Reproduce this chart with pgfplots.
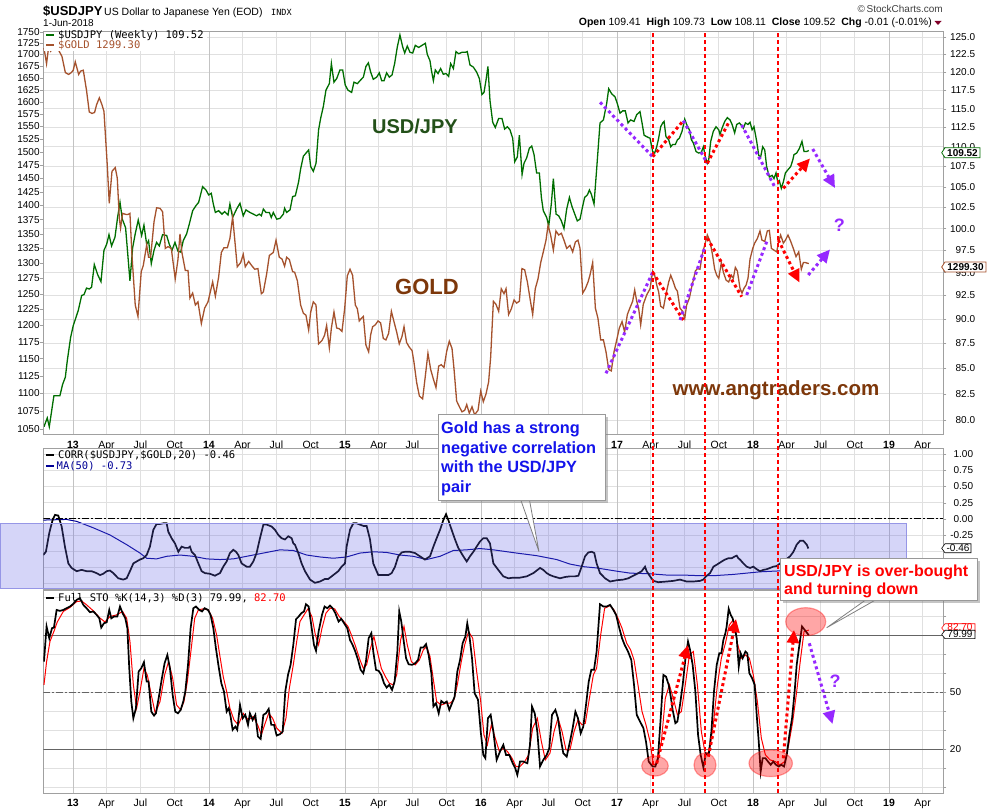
\documentclass[border=0pt]{standalone}
\usepackage{pgfplots}
\pgfplotsset{compat=1.18}
\usepackage{fontspec}
\setmainfont{Liberation Sans}
\newfontfamily\mono{DejaVu Sans Mono}
\usetikzlibrary{arrows.meta,shadows}
\definecolor{jpy}{RGB}{0,110,0}
\definecolor{gold}{RGB}{165,82,45}
\definecolor{gridc}{RGB}{224,224,224}
\definecolor{yearc}{RGB}{195,195,195}
\definecolor{framec}{RGB}{160,160,160}
\definecolor{maline}{RGB}{0,0,150}
\definecolor{purp}{RGB}{150,40,255}
\definecolor{usdtxt}{RGB}{35,80,25}
\definecolor{goldtxt}{RGB}{125,55,10}
\definecolor{bandfill}{RGB}{100,100,230}
\definecolor{bandline}{RGB}{150,150,230}
\definecolor{annblue}{RGB}{20,20,235}
\definecolor{lvl}{RGB}{100,100,100}
\definecolor{chgtri}{RGB}{128,0,40}
\newcommand\fs[1]{\fontsize{#1bp}{#1bp}\selectfont}
\pgfplotsset{
  base/.style={
    scale only axis, width=900bp,
    xmin=2012.782, xmax=2019.399,
    axis line style={framec, line width=0.8bp},
    xtick={2013,2013.247,2013.496,2013.748,2014,2014.247,2014.496,2014.748,2015,2015.247,2015.496,2015.748,2016,2016.247,2016.496,2016.748,2017,2017.247,2017.496,2017.748,2018,2018.247,2018.496,2018.748,2019,2019.247},
    xmajorgrids, ymajorgrids,
    major grid style={gridc, line width=0.6bp},
    extra x ticks={2013,2014,2015,2016,2017,2018,2019},
    extra x tick labels={},
    extra x tick style={major grid style={yearc, line width=0.8bp}},
    x tick style={draw=none},
    y tick style={framec},
    tick align=outside, major tick length=3bp,
    ticklabel style={font=\fs{10}, text=black, inner sep=0pt},
  },
  nolabs/.style={xticklabels={}},
}
\tikzset{
  pdot/.style={purp, line width=3bp, dash pattern=on 3bp off 3bp},
  rdot/.style={red, line width=3bp, dash pattern=on 3bp off 3bp},
  tipp/.style={-{Triangle[length=13bp,width=12bp]}},
  ell/.style={fill=red, fill opacity=0.35, draw=red, draw opacity=0.35, line width=1.2bp},
}
\begin{document}
\begin{tikzpicture}[x=1bp,y=1bp]
\useasboundingbox (0,0) rectangle (990,810);
\fill[white] (0,0) rectangle (990,810);

% ================= TOP PANEL: USD/JPY (right, log)
\begin{axis}[base, at={(43.3bp,376bp)}, anchor=south west, height=403bp,
  xticklabels={\textbf{13},Apr,Jul,Oct,\textbf{14},Apr,Jul,Oct,\textbf{15},Apr,Jul,,,,,,\textbf{17},Apr,Jul,Oct,\textbf{18},Apr,Jul,Oct,\textbf{19},Apr},
  xticklabel style={anchor=base, yshift=-11.5bp, font=\fs{10.5}},
  ymode=log, ymin=78.73, ymax=125.9,
  ytick={80,82.5,85,87.5,90,92.5,95,97.5,100,102.5,105,107.5,110,112.5,115,117.5,120,122.5,125},
  yticklabels={80.0,82.5,85.0,87.5,90.0,92.5,95.0,97.5,100.0,102.5,105.0,107.5,110.0,112.5,115.0,117.5,120.0,122.5,125.0},
  ytick pos=right, yticklabel pos=right, yticklabel style={anchor=east, xshift=29bp}]
\addplot[jpy, line width=1.3bp] coordinates {(2012.787,79.4)(2012.811,80.2)(2012.826,79.4)(2012.860,82.3)(2012.904,82.3)(2012.924,83.4)(2012.944,84.1)(2012.958,85.7)(2012.983,88.1)(2013.002,89.3)(2013.039,90.9)(2013.064,92.5)(2013.081,92.6)(2013.100,93.3)(2013.120,93.2)(2013.137,93.4)(2013.157,95.9)(2013.181,94.8)(2013.206,94.0)(2013.228,97.5)(2013.248,98.2)(2013.265,99.3)(2013.284,98.0)(2013.309,99.0)(2013.328,101.3)(2013.346,103.1)(2013.363,101.1)(2013.387,100.1)(2013.419,94.1)(2013.439,97.8)(2013.458,99.4)(2013.480,101.0)(2013.505,99.2)(2013.522,100.4)(2013.542,98.2)(2013.556,98.6)(2013.576,96.0)(2013.596,97.5)(2013.615,98.4)(2013.635,98.0)(2013.659,99.3)(2013.689,99.2)(2013.708,98.2)(2013.728,97.5)(2013.750,98.4)(2013.772,97.4)(2013.792,97.3)(2013.811,98.6)(2013.836,99.4)(2013.855,100.5)(2013.880,102.1)(2013.904,102.7)(2013.924,103.1)(2013.953,105.0)(2013.978,104.6)(2013.998,104.0)(2014.017,104.2)(2014.032,102.9)(2014.047,101.9)(2014.071,102.1)(2014.096,101.7)(2014.115,102.0)(2014.140,101.6)(2014.154,102.9)(2014.174,101.3)(2014.203,102.3)(2014.228,103.0)(2014.252,101.5)(2014.272,102.2)(2014.301,101.9)(2014.326,101.7)(2014.350,101.5)(2014.370,101.7)(2014.385,101.5)(2014.400,102.3)(2014.419,101.9)(2014.444,101.9)(2014.458,101.3)(2014.473,101.9)(2014.498,101.1)(2014.522,101.2)(2014.547,101.7)(2014.556,102.4)(2014.571,101.9)(2014.596,102.2)(2014.615,103.8)(2014.635,103.9)(2014.659,105.6)(2014.674,107.2)(2014.694,108.8)(2014.733,109.6)(2014.748,107.5)(2014.767,106.9)(2014.787,107.9)(2014.806,112.2)(2014.821,113.7)(2014.841,115.3)(2014.860,117.5)(2014.885,118.4)(2014.900,121.2)(2014.919,118.6)(2014.939,119.1)(2014.963,120.3)(2014.983,120.3)(2015.002,118.2)(2015.022,117.5)(2015.049,117.2)(2015.066,118.6)(2015.091,118.4)(2015.115,118.9)(2015.135,119.3)(2015.154,120.8)(2015.172,121.3)(2015.189,120.0)(2015.208,119.0)(2015.233,119.3)(2015.252,119.9)(2015.270,118.8)(2015.287,118.8)(2015.306,119.9)(2015.326,119.3)(2015.346,119.6)(2015.365,121.2)(2015.385,123.6)(2015.404,125.3)(2015.424,123.6)(2015.439,122.7)(2015.458,123.7)(2015.478,122.8)(2015.498,122.7)(2015.517,123.8)(2015.542,123.5)(2015.566,123.8)(2015.591,124.1)(2015.605,122.5)(2015.625,121.6)(2015.635,120.3)(2015.650,118.8)(2015.664,120.3)(2015.684,119.8)(2015.703,120.5)(2015.723,119.7)(2015.743,119.8)(2015.762,119.4)(2015.777,121.2)(2015.797,120.5)(2015.816,122.9)(2015.836,122.6)(2015.860,122.8)(2015.885,122.8)(2015.899,122.9)(2015.919,121.0)(2015.944,120.7)(2015.968,120.0)(2015.988,119.1)(2016.007,116.9)(2016.022,117.2)(2016.037,118.9)(2016.051,120.8)(2016.066,116.1)(2016.086,113.2)(2016.105,112.5)(2016.130,113.7)(2016.154,113.7)(2016.174,112.3)(2016.194,112.6)(2016.213,112.2)(2016.233,111.1)(2016.248,108.1)(2016.267,108.7)(2016.282,111.5)(2016.302,106.5)(2016.316,107.9)(2016.336,108.6)(2016.355,109.8)(2016.373,110.1)(2016.390,109.0)(2016.409,106.7)(2016.429,106.7)(2016.444,103.7)(2016.458,102.1)(2016.483,101.3)(2016.498,100.3)(2016.517,102.9)(2016.532,106.0)(2016.552,101.7)(2016.571,101.5)(2016.591,100.9)(2016.610,100.0)(2016.630,102.3)(2016.650,103.7)(2016.669,102.6)(2016.694,101.5)(2016.708,100.9)(2016.728,101.1)(2016.743,102.3)(2016.762,103.7)(2016.782,104.0)(2016.797,104.6)(2016.811,104.1)(2016.831,102.9)(2016.850,107.1)(2016.875,113.1)(2016.900,113.5)(2016.924,115.7)(2016.939,117.7)(2016.961,117.0)(2016.985,116.6)(2017.002,115.7)(2017.022,114.4)(2017.042,114.7)(2017.061,114.7)(2017.081,113.1)(2017.100,113.5)(2017.125,113.3)(2017.145,114.2)(2017.169,114.6)(2017.184,113.1)(2017.199,111.5)(2017.218,111.3)(2017.243,111.1)(2017.262,109.4)(2017.277,109.2)(2017.292,110.0)(2017.306,111.1)(2017.321,112.6)(2017.336,113.1)(2017.346,113.3)(2017.360,111.3)(2017.380,110.9)(2017.395,110.0)(2017.409,110.3)(2017.429,110.3)(2017.444,110.9)(2017.458,111.1)(2017.478,112.0)(2017.498,113.6)(2017.512,112.9)(2017.532,112.2)(2017.547,110.9)(2017.561,110.5)(2017.581,109.4)(2017.600,109.2)(2017.620,109.3)(2017.635,110.0)(2017.650,108.7)(2017.664,107.9)(2017.674,108.3)(2017.689,110.7)(2017.708,112.0)(2017.728,112.6)(2017.748,112.2)(2017.757,111.6)(2017.772,112.4)(2017.792,113.3)(2017.811,113.8)(2017.831,113.5)(2017.846,112.9)(2017.865,111.8)(2017.880,112.9)(2017.900,113.1)(2017.914,112.8)(2017.929,112.4)(2017.944,113.1)(2017.963,112.9)(2017.978,113.2)(2017.993,112.2)(2018.007,112.6)(2018.027,110.7)(2018.042,108.9)(2018.056,108.7)(2018.071,110.0)(2018.086,109.6)(2018.100,107.5)(2018.120,106.2)(2018.140,106.4)(2018.154,106.0)(2018.169,106.7)(2018.184,105.4)(2018.194,105.7)(2018.208,104.8)(2018.223,105.6)(2018.238,106.7)(2018.257,107.1)(2018.277,107.5)(2018.292,108.3)(2018.301,109.0)(2018.321,109.2)(2018.341,109.8)(2018.360,110.7)(2018.375,109.4)(2018.394,109.4)(2018.410,109.52)};
\end{axis}

% ================= TOP PANEL: GOLD (left, log)
\begin{axis}[scale only axis, width=900bp, height=403bp, at={(43.3bp,376bp)}, anchor=south west,
  xmin=2012.782, xmax=2019.399, xtick=\empty,
  ymode=log, ymin=1043.9, ymax=1752.4,
  axis line style={framec, line width=0.8bp}, y tick style={framec},
  tick align=outside, major tick length=3bp,
  ticklabel style={font=\fs{10}, text=black, inner sep=0pt},
  ytick={1050,1075,1100,1125,1150,1175,1200,1225,1250,1275,1300,1325,1350,1375,1400,1425,1450,1475,1500,1525,1550,1575,1600,1625,1650,1675,1700,1725,1750},
  yticklabels={1050,1075,1100,1125,1150,1175,1200,1225,1250,1275,1300,1325,1350,1375,1400,1425,1450,1475,1500,1525,1550,1575,1600,1625,1650,1675,1700,1725,1750},
  ytick pos=left, yticklabel style={anchor=east, xshift=-0.5bp}]
\addplot[gold, line width=1.3bp] coordinates {(2012.787,1714)(2012.806,1680)(2012.821,1716)(2012.836,1707)(2012.850,1714)(2012.870,1716)(2012.895,1709)(2012.919,1696)(2012.944,1661)(2012.968,1657)(2012.988,1661)(2013.002,1666)(2013.017,1684)(2013.042,1657)(2013.056,1664)(2013.076,1666)(2013.100,1623)(2013.120,1579)(2013.140,1576)(2013.159,1578)(2013.174,1594)(2013.194,1608)(2013.213,1594)(2013.228,1580)(2013.252,1476)(2013.267,1404)(2013.287,1463)(2013.311,1470)(2013.326,1450)(2013.341,1377)(2013.350,1360)(2013.365,1386)(2013.390,1384)(2013.404,1384)(2013.419,1386)(2013.434,1313)(2013.458,1232)(2013.478,1214)(2013.502,1286)(2013.517,1296)(2013.542,1331)(2013.556,1310)(2013.571,1310)(2013.596,1371)(2013.615,1396)(2013.640,1395)(2013.659,1389)(2013.679,1325)(2013.699,1328)(2013.723,1325)(2013.752,1274)(2013.772,1306)(2013.787,1350)(2013.801,1318)(2013.826,1288)(2013.846,1288)(2013.860,1243)(2013.880,1251)(2013.900,1232)(2013.919,1237)(2013.944,1203)(2013.968,1227)(2013.993,1237)(2014.027,1269)(2014.047,1246)(2014.071,1277)(2014.091,1318)(2014.110,1326)(2014.135,1326)(2014.154,1342)(2014.174,1380)(2014.208,1294)(2014.233,1301)(2014.252,1315)(2014.267,1294)(2014.292,1303)(2014.311,1297)(2014.336,1290)(2014.360,1291)(2014.385,1250)(2014.400,1253)(2014.424,1282)(2014.444,1313)(2014.473,1318)(2014.493,1339)(2014.517,1310)(2014.537,1307)(2014.556,1295)(2014.571,1310)(2014.591,1306)(2014.615,1286)(2014.630,1285)(2014.650,1271)(2014.674,1232)(2014.694,1219)(2014.713,1216)(2014.733,1193)(2014.748,1221)(2014.767,1237)(2014.787,1232)(2014.806,1172)(2014.831,1177)(2014.850,1185)(2014.865,1200)(2014.885,1166)(2014.900,1196)(2014.919,1221)(2014.939,1196)(2014.958,1195)(2014.978,1191)(2014.998,1227)(2015.017,1279)(2015.037,1290)(2015.056,1280)(2015.076,1232)(2015.091,1226)(2015.105,1207)(2015.120,1211)(2015.135,1214)(2015.154,1170)(2015.174,1160)(2015.189,1186)(2015.203,1198)(2015.223,1201)(2015.243,1207)(2015.262,1204)(2015.282,1180)(2015.301,1178)(2015.321,1188)(2015.341,1222)(2015.360,1206)(2015.380,1190)(2015.399,1172)(2015.419,1183)(2015.434,1198)(2015.453,1174)(2015.473,1167)(2015.493,1162)(2015.507,1145)(2015.527,1115)(2015.547,1096)(2015.571,1092)(2015.591,1125)(2015.610,1158)(2015.630,1134)(2015.650,1120)(2015.669,1108)(2015.689,1139)(2015.708,1141)(2015.728,1137)(2015.748,1161)(2015.767,1176)(2015.787,1165)(2015.802,1134)(2015.821,1089)(2015.841,1081)(2015.860,1074)(2015.880,1076)(2015.895,1084)(2015.914,1072)(2015.934,1081)(2015.953,1070)(2015.978,1076)(2015.998,1103)(2016.017,1088)(2016.037,1099)(2016.056,1116)(2016.071,1152)(2016.091,1238)(2016.110,1233)(2016.130,1222)(2016.149,1258)(2016.169,1250)(2016.184,1258)(2016.203,1217)(2016.223,1226)(2016.243,1240)(2016.262,1235)(2016.282,1238)(2016.301,1291)(2016.321,1289)(2016.341,1269)(2016.360,1243)(2016.380,1217)(2016.399,1258)(2016.419,1274)(2016.439,1301)(2016.458,1319)(2016.478,1339)(2016.493,1365)(2016.512,1348)(2016.532,1322)(2016.551,1355)(2016.571,1348)(2016.591,1351)(2016.610,1339)(2016.630,1325)(2016.654,1330)(2016.674,1319)(2016.694,1336)(2016.713,1339)(2016.728,1325)(2016.748,1251)(2016.767,1258)(2016.787,1269)(2016.801,1280)(2016.821,1301)(2016.841,1227)(2016.860,1211)(2016.880,1178)(2016.900,1178)(2016.919,1160)(2016.939,1134)(2016.958,1132)(2016.978,1160)(2016.998,1178)(2017.017,1196)(2017.037,1206)(2017.056,1190)(2017.076,1217)(2017.096,1228)(2017.115,1238)(2017.130,1256)(2017.145,1238)(2017.159,1227)(2017.174,1201)(2017.193,1233)(2017.218,1248)(2017.243,1258)(2017.262,1287)(2017.277,1280)(2017.292,1264)(2017.306,1253)(2017.321,1230)(2017.341,1227)(2017.360,1249)(2017.380,1269)(2017.395,1280)(2017.414,1269)(2017.429,1259)(2017.444,1254)(2017.463,1227)(2017.483,1222)(2017.498,1211)(2017.512,1232)(2017.532,1243)(2017.547,1259)(2017.561,1272)(2017.576,1287)(2017.591,1291)(2017.610,1290)(2017.625,1313)(2017.645,1331)(2017.664,1348)(2017.684,1337)(2017.703,1313)(2017.718,1290)(2017.733,1280)(2017.748,1275)(2017.767,1301)(2017.782,1285)(2017.802,1272)(2017.821,1269)(2017.841,1280)(2017.855,1275)(2017.870,1293)(2017.885,1287)(2017.904,1259)(2017.919,1251)(2017.934,1259)(2017.949,1264)(2017.963,1275)(2017.978,1307)(2017.998,1325)(2018.012,1334)(2018.032,1342)(2018.051,1355)(2018.066,1339)(2018.086,1337)(2018.105,1355)(2018.120,1356)(2018.135,1325)(2018.154,1322)(2018.174,1319)(2018.189,1337)(2018.203,1348)(2018.223,1334)(2018.238,1339)(2018.257,1348)(2018.277,1337)(2018.296,1325)(2018.316,1311)(2018.336,1319)(2018.355,1290)(2018.370,1301)(2018.385,1301)(2018.410,1299.3)};
\end{axis}

% ================= MIDDLE PANEL: CORR
\begin{axis}[base, nolabs, at={(43.3bp,220.7bp)}, anchor=south west, height=141bp,
  ymin=-1.09, ymax=1.09,
  ytick={-1,-0.75,-0.5,-0.25,0,0.25,0.5,0.75,1},
  yticklabels={,,,-0.25,0.00,0.25,0.50,0.75,1.00},
  ytick pos=right, yticklabel pos=right, yticklabel style={anchor=east, xshift=27bp}]
\addplot[black, line width=0.9bp, dash pattern=on 7bp off 2bp on 2bp off 2bp] coordinates {(2012.782,0)(2019.399,0)};
\addplot[maline, line width=1bp] coordinates {(2012.782,-0.02)(2012.953,-0.01)(2013.027,-0.04)(2013.150,-0.14)(2013.272,-0.25)(2013.395,-0.40)(2013.493,-0.53)(2013.542,-0.61)(2013.615,-0.62)(2013.689,-0.58)(2013.787,-0.56)(2013.885,-0.58)(2013.983,-0.62)(2014.081,-0.63)(2014.179,-0.62)(2014.326,-0.56)(2014.424,-0.52)(2014.522,-0.48)(2014.620,-0.49)(2014.718,-0.56)(2014.816,-0.59)(2014.914,-0.61)(2015.012,-0.59)(2015.110,-0.53)(2015.208,-0.51)(2015.306,-0.52)(2015.404,-0.56)(2015.502,-0.58)(2015.600,-0.63)(2015.699,-0.58)(2015.797,-0.49)(2015.895,-0.48)(2015.993,-0.46)(2016.091,-0.48)(2016.262,-0.53)(2016.409,-0.57)(2016.556,-0.63)(2016.654,-0.70)(2016.752,-0.74)(2016.850,-0.76)(2016.998,-0.81)(2017.096,-0.84)(2017.243,-0.85)(2017.365,-0.87)(2017.488,-0.87)(2017.610,-0.88)(2017.708,-0.88)(2017.855,-0.86)(2017.953,-0.84)(2018.051,-0.82)(2018.149,-0.81)(2018.248,-0.80)(2018.407,-0.78)};
\addplot[black, line width=1.7bp] coordinates {(2012.782,-0.56)(2012.801,-0.51)(2012.826,-0.22)(2012.850,-0.02)(2012.868,0.06)(2012.892,0.05)(2012.917,-0.12)(2012.941,-0.43)(2012.966,-0.69)(2012.990,-0.76)(2013.027,-0.81)(2013.064,-0.79)(2013.100,-0.81)(2013.137,-0.81)(2013.174,-0.84)(2013.199,-0.87)(2013.223,-0.85)(2013.248,-0.81)(2013.272,-0.80)(2013.297,-0.84)(2013.333,-0.92)(2013.370,-0.94)(2013.395,-0.92)(2013.419,-0.81)(2013.444,-0.69)(2013.468,-0.66)(2013.493,-0.63)(2013.517,-0.61)(2013.542,-0.56)(2013.566,-0.43)(2013.591,-0.17)(2013.615,-0.08)(2013.640,-0.08)(2013.664,-0.07)(2013.689,-0.07)(2013.701,-0.20)(2013.725,-0.30)(2013.750,-0.38)(2013.775,-0.51)(2013.799,-0.43)(2013.824,-0.45)(2013.848,-0.45)(2013.860,-0.43)(2013.873,-0.51)(2013.897,-0.56)(2013.922,-0.69)(2013.946,-0.81)(2013.971,-0.84)(2014.007,-0.85)(2014.044,-0.88)(2014.081,-0.84)(2014.105,-0.74)(2014.130,-0.66)(2014.154,-0.53)(2014.179,-0.48)(2014.199,-0.51)(2014.216,-0.56)(2014.240,-0.69)(2014.277,-0.74)(2014.301,-0.74)(2014.326,-0.66)(2014.350,-0.53)(2014.375,-0.30)(2014.400,-0.09)(2014.424,-0.09)(2014.461,-0.12)(2014.485,-0.17)(2014.510,-0.25)(2014.534,-0.30)(2014.559,-0.32)(2014.583,-0.27)(2014.608,-0.30)(2014.620,-0.38)(2014.632,-0.40)(2014.657,-0.53)(2014.681,-0.69)(2014.706,-0.81)(2014.743,-0.94)(2014.779,-0.99)(2014.816,-0.97)(2014.853,-0.93)(2014.877,-0.93)(2014.902,-0.89)(2014.926,-0.85)(2014.951,-0.81)(2014.975,-0.74)(2015.000,-0.69)(2015.012,-0.43)(2015.037,-0.17)(2015.061,-0.07)(2015.086,-0.07)(2015.110,-0.09)(2015.135,-0.11)(2015.159,-0.11)(2015.184,-0.32)(2015.208,-0.69)(2015.245,-0.87)(2015.282,-0.87)(2015.319,-0.87)(2015.343,-0.84)(2015.368,-0.74)(2015.392,-0.58)(2015.417,-0.52)(2015.441,-0.51)(2015.478,-0.51)(2015.515,-0.53)(2015.551,-0.58)(2015.588,-0.63)(2015.625,-0.58)(2015.650,-0.43)(2015.674,-0.30)(2015.699,-0.17)(2015.723,-0.02)(2015.743,0.07)(2015.760,-0.02)(2015.784,-0.17)(2015.809,-0.32)(2015.833,-0.45)(2015.870,-0.58)(2015.895,-0.66)(2015.919,-0.58)(2015.944,-0.51)(2015.968,-0.43)(2015.993,-0.35)(2016.017,-0.30)(2016.042,-0.30)(2016.066,-0.38)(2016.091,-0.69)(2016.127,-0.79)(2016.164,-0.89)(2016.201,-0.92)(2016.238,-0.91)(2016.287,-0.91)(2016.336,-0.89)(2016.385,-0.84)(2016.434,-0.76)(2016.458,-0.79)(2016.483,-0.84)(2016.507,-0.87)(2016.532,-0.89)(2016.581,-0.92)(2016.618,-0.90)(2016.654,-0.89)(2016.691,-0.89)(2016.716,-0.88)(2016.740,-0.74)(2016.765,-0.58)(2016.789,-0.52)(2016.814,-0.51)(2016.833,-0.53)(2016.850,-0.69)(2016.875,-0.84)(2016.912,-0.92)(2016.949,-0.97)(2016.998,-0.95)(2017.047,-0.94)(2017.083,-0.92)(2017.120,-0.88)(2017.157,-0.84)(2017.181,-0.81)(2017.206,-0.74)(2017.218,-0.81)(2017.243,-0.89)(2017.267,-0.96)(2017.304,-0.98)(2017.365,-0.97)(2017.414,-0.96)(2017.463,-0.94)(2017.512,-0.97)(2017.561,-0.97)(2017.610,-0.96)(2017.635,-0.94)(2017.654,-0.89)(2017.684,-0.84)(2017.709,-0.74)(2017.733,-0.71)(2017.770,-0.66)(2017.794,-0.63)(2017.819,-0.61)(2017.843,-0.61)(2017.868,-0.58)(2017.880,-0.57)(2017.892,-0.61)(2017.904,-0.63)(2017.929,-0.69)(2017.953,-0.74)(2017.978,-0.76)(2018.002,-0.74)(2018.027,-0.78)(2018.051,-0.81)(2018.076,-0.79)(2018.100,-0.78)(2018.125,-0.76)(2018.149,-0.74)(2018.174,-0.73)(2018.199,-0.69)(2018.223,-0.66)(2018.248,-0.62)(2018.272,-0.58)(2018.297,-0.51)(2018.321,-0.40)(2018.346,-0.34)(2018.370,-0.34)(2018.395,-0.40)(2018.407,-0.46)};
\end{axis}

% ================= BOTTOM PANEL: STO
\begin{axis}[base, at={(43.3bp,16.7bp)}, anchor=south west, height=203.3bp,
  xticklabels={\textbf{13},Apr,Jul,Oct,\textbf{14},Apr,Jul,Oct,\textbf{15},Apr,Jul,Oct,\textbf{16},Apr,Jul,Oct,\textbf{17},Apr,Jul,Oct,\textbf{18},Apr,Jul,Oct,\textbf{19},Apr},
  xticklabel style={anchor=base, yshift=-10.3bp, font=\fs{10.5}},
  ymin=-3.2, ymax=103.8,
  ytick={0,10,20,30,40,50,60,70,80,90,100},
  yticklabels={,,20,,,50,,,,,},
  ytick pos=right, yticklabel pos=right, yticklabel style={anchor=east, xshift=15bp}]
\addplot[lvl, line width=0.9bp] coordinates {(2012.782,20)(2019.399,20)};
\addplot[lvl, line width=0.9bp] coordinates {(2012.782,80)(2019.399,80)};
\addplot[lvl, line width=0.9bp, dash pattern=on 7bp off 2bp on 2bp off 2bp] coordinates {(2012.782,50)(2019.399,50)};
\addplot[red, line width=1bp] coordinates {(2012.787,53.9)(2012.806,66.0)(2012.831,76.7)(2012.860,82.0)(2012.885,87.0)(2012.929,92.5)(2012.978,94.6)(2013.027,97.7)(2013.064,98.0)(2013.100,96.0)(2013.150,92.8)(2013.199,89.0)(2013.235,87.0)(2013.272,89.8)(2013.321,90.7)(2013.365,92.5)(2013.395,88.9)(2013.419,76.7)(2013.444,53.9)(2013.468,41.6)(2013.493,50.4)(2013.522,62.6)(2013.547,59.0)(2013.576,48.6)(2013.605,38.9)(2013.640,45.1)(2013.674,59.1)(2013.703,66.1)(2013.733,57.4)(2013.762,43.3)(2013.792,40.7)(2013.816,45.1)(2013.841,55.6)(2013.870,73.2)(2013.895,88.9)(2013.922,93.3)(2013.958,93.9)(2013.995,93.3)(2014.027,88.9)(2014.056,80.2)(2014.081,68.8)(2014.105,58.2)(2014.130,50.4)(2014.154,41.6)(2014.184,35.4)(2014.216,32.8)(2014.252,38.9)(2014.289,35.4)(2014.326,37.2)(2014.360,32.4)(2014.385,27.5)(2014.409,32.8)(2014.439,38.9)(2014.468,36.3)(2014.498,31.1)(2014.537,28.4)(2014.566,36.3)(2014.591,52.1)(2014.620,64.4)(2014.645,76.7)(2014.669,87.2)(2014.699,90.7)(2014.728,93.9)(2014.757,89.8)(2014.782,80.2)(2014.806,74.9)(2014.831,83.7)(2014.860,91.6)(2014.890,94.2)(2014.924,93.9)(2014.958,89.8)(2014.988,87.5)(2015.022,84.6)(2015.042,81.1)(2015.074,74.9)(2015.110,67.0)(2015.135,62.6)(2015.159,64.4)(2015.184,72.3)(2015.213,79.3)(2015.238,71.4)(2015.267,62.6)(2015.297,58.2)(2015.326,54.7)(2015.355,53.9)(2015.380,59.1)(2015.409,77.5)(2015.434,84.6)(2015.458,74.9)(2015.488,66.1)(2015.517,64.4)(2015.547,67.0)(2015.576,72.3)(2015.600,74.0)(2015.625,68.8)(2015.650,56.5)(2015.674,45.1)(2015.708,43.3)(2015.743,44.2)(2015.772,44.2)(2015.801,46.0)(2015.826,53.9)(2015.855,66.1)(2015.880,74.9)(2015.909,81.9)(2015.939,78.4)(2015.968,60.9)(2015.998,45.1)(2016.022,27.5)(2016.047,22.3)(2016.076,32.8)(2016.105,25.8)(2016.135,18.8)(2016.164,20.5)(2016.194,18.8)(2016.228,15.3)(2016.257,10.9)(2016.287,10.9)(2016.321,13.5)(2016.350,17.0)(2016.380,31.1)(2016.414,36.3)(2016.444,24.0)(2016.473,14.4)(2016.507,17.9)(2016.537,29.3)(2016.566,36.3)(2016.596,29.3)(2016.625,19.6)(2016.654,19.6)(2016.684,29.3)(2016.713,35.4)(2016.743,32.8)(2016.767,33.7)(2016.797,46.8)(2016.826,59.1)(2016.850,62.6)(2016.880,80.2)(2016.909,94.2)(2016.949,95.6)(2016.978,93.3)(2017.007,88.9)(2017.037,83.7)(2017.071,75.8)(2017.100,72.3)(2017.125,67.0)(2017.154,53.9)(2017.184,39.8)(2017.213,32.8)(2017.243,24.0)(2017.267,11.8)(2017.296,12.6)(2017.326,24.0)(2017.355,46.8)(2017.385,53.9)(2017.414,46.8)(2017.444,38.1)(2017.473,39.8)(2017.502,53.9)(2017.532,69.6)(2017.561,71.4)(2017.591,53.9)(2017.620,29.3)(2017.650,17.0)(2017.679,18.8)(2017.708,32.8)(2017.738,53.9)(2017.767,67.9)(2017.797,75.8)(2017.826,85.4)(2017.855,88.1)(2017.885,75.8)(2017.914,67.9)(2017.944,69.6)(2017.973,67.9)(2018.002,59.1)(2018.032,45.1)(2018.061,25.8)(2018.091,17.0)(2018.125,14.4)(2018.164,13.5)(2018.198,11.8)(2018.233,13.5)(2018.262,22.3)(2018.292,34.6)(2018.321,50.4)(2018.350,67.9)(2018.375,81.9)(2018.410,82.7)};
\addplot[black, line width=1.7bp] coordinates {(2012.787,66.1)(2012.806,84.6)(2012.826,78.4)(2012.846,83.7)(2012.860,84.0)(2012.880,93.3)(2012.904,92.8)(2012.929,93.3)(2012.953,94.2)(2012.978,95.1)(2013.002,96.5)(2013.027,98.6)(2013.051,99.5)(2013.076,96.0)(2013.100,94.2)(2013.125,92.1)(2013.150,92.5)(2013.174,90.7)(2013.194,88.9)(2013.208,84.0)(2013.228,86.3)(2013.248,86.8)(2013.267,93.3)(2013.282,88.9)(2013.301,89.8)(2013.326,89.8)(2013.346,95.1)(2013.365,91.6)(2013.385,88.9)(2013.400,83.7)(2013.414,62.6)(2013.429,45.1)(2013.444,36.3)(2013.463,41.6)(2013.483,60.9)(2013.502,62.6)(2013.522,65.8)(2013.542,55.6)(2013.556,55.6)(2013.576,39.8)(2013.596,37.7)(2013.610,38.9)(2013.630,46.8)(2013.654,57.4)(2013.674,65.3)(2013.694,69.6)(2013.713,62.6)(2013.733,48.6)(2013.752,39.8)(2013.772,38.9)(2013.792,40.7)(2013.811,45.1)(2013.826,50.4)(2013.846,64.4)(2013.865,83.7)(2013.885,94.2)(2013.904,95.1)(2013.929,93.3)(2013.949,92.5)(2013.968,94.2)(2013.993,93.3)(2014.012,90.7)(2014.032,83.7)(2014.051,73.2)(2014.071,63.5)(2014.091,54.7)(2014.110,50.4)(2014.130,39.8)(2014.145,41.6)(2014.159,37.2)(2014.174,30.2)(2014.194,31.9)(2014.208,30.2)(2014.228,43.3)(2014.248,36.3)(2014.267,38.1)(2014.287,32.8)(2014.301,38.9)(2014.321,35.4)(2014.341,38.1)(2014.360,26.7)(2014.380,25.4)(2014.400,38.1)(2014.419,38.9)(2014.439,41.2)(2014.458,32.8)(2014.478,32.8)(2014.498,27.2)(2014.522,27.9)(2014.542,29.3)(2014.561,50.4)(2014.581,59.1)(2014.600,64.4)(2014.620,74.9)(2014.640,88.4)(2014.659,89.8)(2014.679,91.6)(2014.699,92.5)(2014.713,96.3)(2014.733,95.1)(2014.752,85.4)(2014.772,74.9)(2014.787,71.8)(2014.806,81.9)(2014.831,90.7)(2014.850,95.1)(2014.870,94.2)(2014.890,95.6)(2014.909,94.2)(2014.929,91.6)(2014.953,87.2)(2014.973,88.6)(2014.998,85.8)(2015.017,83.7)(2015.037,77.5)(2015.056,74.9)(2015.076,71.4)(2015.096,67.0)(2015.115,61.8)(2015.135,60.0)(2015.154,66.1)(2015.174,78.4)(2015.194,81.1)(2015.208,71.4)(2015.228,61.8)(2015.248,61.2)(2015.267,59.1)(2015.287,54.7)(2015.306,52.5)(2015.326,53.9)(2015.346,51.2)(2015.365,55.6)(2015.385,71.4)(2015.399,92.5)(2015.414,87.2)(2015.429,78.4)(2015.449,67.9)(2015.468,64.7)(2015.493,64.4)(2015.517,65.3)(2015.537,67.0)(2015.556,73.5)(2015.576,73.5)(2015.596,75.3)(2015.615,69.6)(2015.635,60.0)(2015.650,42.5)(2015.669,44.2)(2015.689,38.9)(2015.708,45.4)(2015.728,44.2)(2015.748,45.1)(2015.767,40.7)(2015.787,44.2)(2015.806,47.7)(2015.826,60.9)(2015.846,67.0)(2015.865,75.8)(2015.885,79.3)(2015.899,86.3)(2015.914,80.2)(2015.934,67.9)(2015.953,49.5)(2015.978,46.0)(2015.998,29.3)(2016.017,17.0)(2016.032,15.3)(2016.051,36.3)(2016.071,38.1)(2016.091,29.3)(2016.115,14.4)(2016.140,18.8)(2016.164,22.3)(2016.184,17.0)(2016.208,17.0)(2016.233,12.6)(2016.252,10.0)(2016.267,6.5)(2016.287,13.5)(2016.311,13.5)(2016.341,12.6)(2016.360,22.3)(2016.375,42.5)(2016.395,38.9)(2016.414,29.3)(2016.434,10.9)(2016.458,14.4)(2016.483,17.0)(2016.502,20.5)(2016.522,38.1)(2016.547,40.7)(2016.566,36.3)(2016.586,25.8)(2016.605,17.9)(2016.630,16.1)(2016.654,24.0)(2016.674,31.1)(2016.694,39.8)(2016.713,36.3)(2016.733,28.4)(2016.752,31.9)(2016.772,43.3)(2016.792,55.6)(2016.811,61.8)(2016.831,61.8)(2016.850,71.4)(2016.875,96.3)(2016.900,95.1)(2016.924,95.1)(2016.949,96.0)(2016.973,93.3)(2016.993,90.7)(2017.017,83.7)(2017.037,78.4)(2017.056,74.9)(2017.081,71.4)(2017.105,67.0)(2017.125,53.9)(2017.145,38.1)(2017.169,34.6)(2017.194,31.1)(2017.213,24.0)(2017.233,13.5)(2017.243,12.6)(2017.262,10.9)(2017.282,10.9)(2017.301,15.3)(2017.321,36.3)(2017.341,59.1)(2017.360,58.2)(2017.380,53.9)(2017.395,47.7)(2017.409,40.7)(2017.429,33.7)(2017.444,34.6)(2017.463,43.3)(2017.483,53.9)(2017.502,67.0)(2017.522,76.7)(2017.537,72.3)(2017.556,64.4)(2017.576,50.4)(2017.596,27.5)(2017.615,17.0)(2017.635,10.4)(2017.654,17.9)(2017.674,17.0)(2017.694,29.3)(2017.713,50.4)(2017.733,64.4)(2017.752,70.5)(2017.767,70.5)(2017.782,77.5)(2017.797,81.1)(2017.806,84.6)(2017.821,93.9)(2017.836,90.7)(2017.850,88.9)(2017.865,84.6)(2017.880,78.4)(2017.895,63.5)(2017.909,70.5)(2017.924,67.9)(2017.944,71.4)(2017.958,70.5)(2017.973,60.0)(2017.993,57.4)(2018.012,53.9)(2018.027,38.1)(2018.042,24.0)(2018.056,8.2)(2018.071,15.3)(2018.091,15.3)(2018.110,13.5)(2018.130,11.8)(2018.149,13.5)(2018.169,11.8)(2018.189,10.9)(2018.208,11.8)(2018.228,10.9)(2018.248,17.0)(2018.267,27.5)(2018.287,36.3)(2018.306,50.4)(2018.321,64.4)(2018.341,74.9)(2018.360,84.6)(2018.380,82.8)(2018.410,79.99)};
\end{axis}

% ================= HEADER
\node[anchor=base west, inner sep=0pt, font=\fs{13}\bfseries] at (43,794.4) {\$USDJPY};
\node[anchor=base west, inner sep=0pt, font=\fs{10.5}] at (104,794.4) {US Dollar to Japanese Yen (EOD)};
\node[anchor=base west, inner sep=0pt, font=\mono\fs{8.5}] at (271,794.4) {INDX};
\node[anchor=base west, inner sep=0pt, font=\fs{10}] at (43,783.4) {1-Jun-2018};
\node[anchor=base east, inner sep=0pt, font=\fs{10}, text=black!75] at (943,797.4) {©\,StockCharts.com};
\node[anchor=base east, inner sep=0pt, font=\fs{10.5}] at (932,784.4) {\textbf{Open} 109.41\ \ \textbf{High} 109.73\ \ \textbf{Low} 108.11\ \ \textbf{Close} 109.52\ \ \textbf{Chg} -0.01 (-0.01\%)};
\fill[chgtri] (934.5,789) -- (941.5,789) -- (938,785) -- cycle;

% ================= LEGENDS
\fill[white] (44,759) rectangle (207,778);
\draw[jpy, line width=2.5bp] (46,775) -- (54,775);
\node[anchor=base west, inner sep=0pt, font=\mono\fs{10.5}] at (58,771.6) {\$USDJPY (Weekly) 109.52};
\draw[gold, line width=2.5bp] (46,765) -- (54,765);
\node[anchor=base west, inner sep=0pt, font=\mono\fs{10.5}, text=gold] at (58,761.6) {\$GOLD 1299.30};
\draw[black, line width=2.5bp] (46,355) -- (54,355);
\node[anchor=base west, inner sep=0pt, font=\mono\fs{10.5}] at (58,351.6) {CORR(\$USDJPY,\$GOLD,20) -0.46};
\draw[maline, line width=2.5bp] (46,344) -- (54,344);
\node[anchor=base west, inner sep=0pt, font=\mono\fs{10.5}, text=maline] at (56.5,340.6) {MA(50) -0.73};
\draw[black, line width=2.5bp] (46,212) -- (54,212);
\node[anchor=base west, inner sep=0pt, font=\mono\fs{10.5}] at (58,208.6) {Full STO \%K(14,3) \%D(3) 79.99, \textcolor{red}{82.70}};

% ================= VALUE TAGS
\draw[jpy, fill=white, line width=0.8bp] (941.7,657.3) -- (945,662.3) -- (980,662.3) -- (980,652.3) -- (945,652.3) -- cycle;
\node[font=\fs{10}\bfseries, inner sep=0pt, anchor=center] at (962.5,657.3) {109.52};
\draw[gold, fill=white, line width=0.8bp] (941.7,543) -- (945,548) -- (986,548) -- (986,538) -- (945,538) -- cycle;
\node[font=\fs{10}\bfseries, inner sep=0pt, anchor=center] at (965.5,543) {1299.30};
\draw[black, fill=white, line width=0.6bp] (941.7,261.7) -- (945,266.2) -- (971,266.2) -- (971,257.2) -- (945,257.2) -- cycle;
\node[font=\fs{10}, inner sep=0pt, anchor=center] at (958,261.7) {-0.46};
\draw[red, fill=white, line width=0.6bp] (941.7,182) -- (945,186.2) -- (975,186.2) -- (975,177.8) -- (945,177.8) -- cycle;
\node[font=\fs{10}, inner sep=0pt, anchor=center, text=red] at (960,182.6) {82.70};
\draw[black, fill=white, line width=0.6bp] (941.7,175.5) -- (945,179.7) -- (975,179.7) -- (975,171.3) -- (945,171.3) -- cycle;
\node[font=\fs{10}, inner sep=0pt, anchor=center] at (960,175.5) {79.99};

% ================= BAND
\fill[bandfill, fill opacity=0.27] (0,221.7) rectangle (906,286.7);
\draw[bandline, line width=0.8bp] (0,221.7) rectangle (906,286.7);

% ================= BIG LABELS
\node[font=\fs{20}\bfseries, text=usdtxt] at (415,683.3) {USD/JPY};
\node[font=\fs{22}\bfseries, text=goldtxt] at (427,523.3) {GOLD};
\node[font=\fs{20.5}\bfseries, text=goldtxt] at (776,419.3) {www.angtraders.com};

% ================= RED VERTICAL LINES
\foreach \xx in {652.5,705,777.7} \draw[red, line width=2bp, dash pattern=on 4bp off 3bp] (\xx,17) -- (\xx,779);

% ================= TOP ANNOTATIONS
\draw[pdot] (600,707.7) -- (652.7,653.3);
\draw[rdot] (652.7,653.3) -- (683.3,689.3);
\draw[pdot] (683.3,689.3) -- (707.3,646.7);
\draw[rdot] (707.3,646.7) -- (728.3,686.7);
\draw[pdot] (741.7,685) -- (775,622.7);
\draw[rdot, tipp] (783.3,621.7) -- (810,651.5);
\draw[pdot, tipp] (812.7,661) -- (835,622);
\draw[pdot] (606,436.7) -- (652.7,537.7);
\draw[rdot] (652.7,537.7) -- (683.3,490);
\draw[pdot] (680,490) -- (705,563.3);
\draw[rdot] (707.3,571.7) -- (741.7,513.3);
\draw[pdot] (746.7,515) -- (766.7,568.3);
\draw[rdot, tipp] (778.3,570) -- (799.5,527.5);
\draw[pdot, tipp] (808.3,535) -- (830,560.5);
\node[font=\fs{18}\bfseries, text=purp] at (839.3,585) {?};

% ================= BOTTOM ANNOTATIONS
\draw[ell] (655,44) ellipse [x radius=13.3, y radius=10];
\draw[ell] (705,45) ellipse [x radius=11, y radius=12];
\draw[ell] (770.7,46.7) ellipse [x radius=21.7, y radius=13.3];
\draw[ell] (805.7,188.3) ellipse [x radius=20, y radius=14];
\draw[rdot, tipp] (656.7,46.7) -- (688,165);
\draw[rdot, tipp] (708.3,53.3) -- (736,191);
\draw[rdot, tipp] (783.3,51.7) -- (794,180);
\draw[pdot, tipp] (809.3,166.7) -- (832.5,86);
\node[font=\fs{18}\bfseries, text=purp] at (835,128.3) {?};

% ================= TEXT BOXES
\draw[gray, fill=white, line width=0.8bp] (518,318) -- (539,258.3) -- (528,318);
\draw[gray!80, fill=white, line width=0.8bp, drop shadow={shadow xshift=3bp, shadow yshift=-3bp, opacity=0.45}] (438,310) rectangle (605,396);
\node[anchor=base west, inner sep=0pt, font=\fs{16.3}\bfseries, text=annblue] at (441,376.5) {Gold has a strong};
\node[anchor=base west, inner sep=0pt, font=\fs{16.3}\bfseries, text=annblue] at (441,356.8) {negative correlation};
\node[anchor=base west, inner sep=0pt, font=\fs{16.3}\bfseries, text=annblue] at (441,337.1) {with the USD/JPY};
\node[anchor=base west, inner sep=0pt, font=\fs{16.3}\bfseries, text=annblue] at (441,317.4) {pair};
\draw[gray, fill=white, line width=0.8bp] (874,216) -- (826.7,182.3) -- (886,216);
\draw[gray!80, fill=white, line width=0.8bp, drop shadow={shadow xshift=3bp, shadow yshift=-3bp, opacity=0.45}] (780,210) rectangle (977,252);
\node[anchor=base west, inner sep=0pt, font=\fs{16}\bfseries, text=red] at (784,233.5) {USD/JPY is over-bought};
\node[anchor=base west, inner sep=0pt, font=\fs{16}\bfseries, text=red] at (784,215.2) {and turning down};
\end{tikzpicture}
\end{document}
